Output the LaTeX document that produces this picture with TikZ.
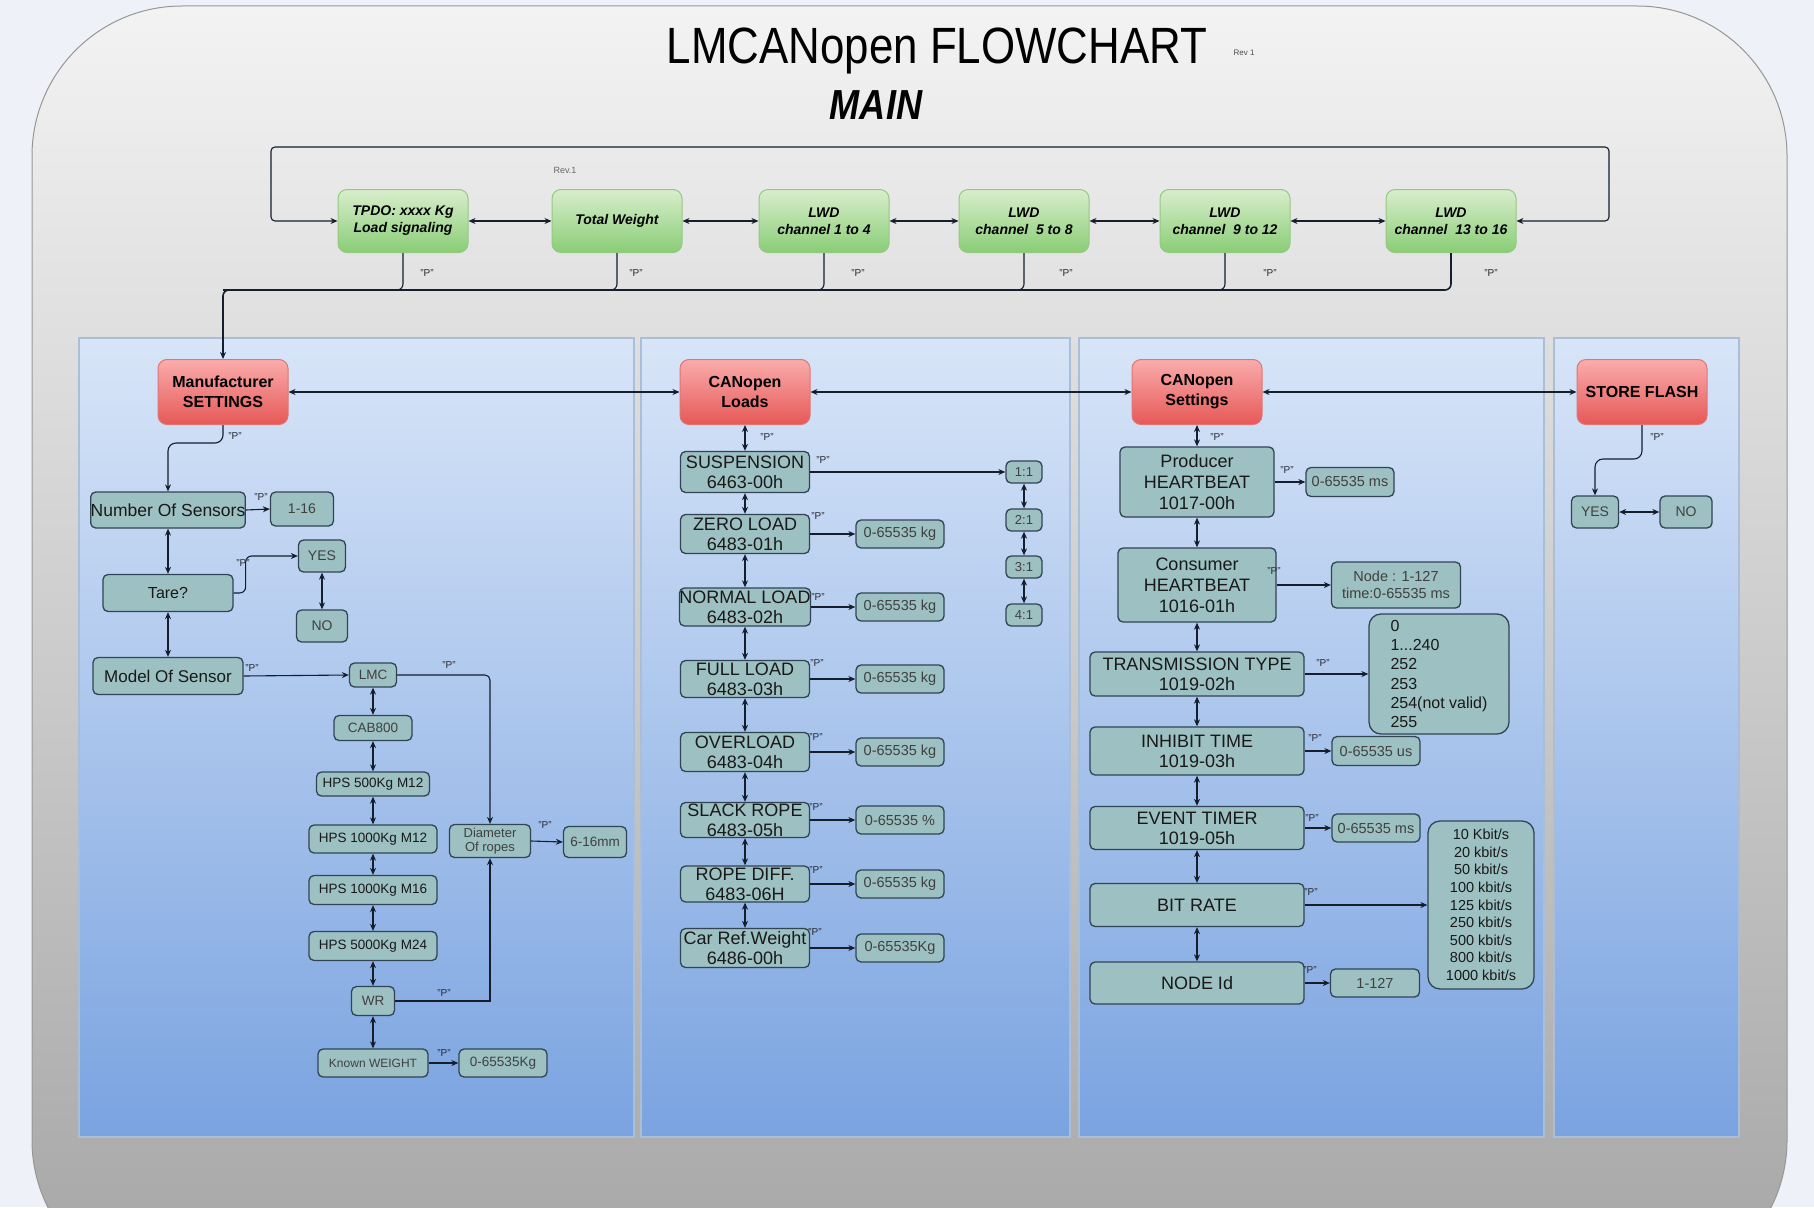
\documentclass[tikz,border=0pt]{standalone}
\usepackage{fontspec}
\setmainfont{Liberation Sans}
\newfontfamily\titlefont[FakeStretch=0.86]{Liberation Sans}
\usetikzlibrary{arrows.meta}
\definecolor{bgc}{RGB}{238,242,248}
\definecolor{otop}{RGB}{243,243,243}
\definecolor{obot}{RGB}{165,165,165}
\definecolor{oborder}{RGB}{150,150,150}
\definecolor{ptop}{RGB}{216,229,248}
\definecolor{pbot}{RGB}{122,163,224}
\definecolor{pborder}{RGB}{170,190,215}
\definecolor{tfill}{RGB}{157,192,194}
\definecolor{tborder}{RGB}{48,68,84}
\definecolor{gtop}{RGB}{216,238,204}
\definecolor{gbot}{RGB}{138,205,118}
\definecolor{gborder}{RGB}{150,200,130}
\definecolor{rtop}{RGB}{250,172,172}
\definecolor{rbot}{RGB}{230,88,86}
\definecolor{rborder}{RGB}{222,118,118}
\definecolor{linec}{RGB}{20,30,45}
\definecolor{plc}{RGB}{40,40,50}
\begin{document}
\begin{tikzpicture}[x=1pt,y=-1pt,
  line/.style={draw=linec, line width=1.1pt},
  arr/.style={line, -{Stealth[length=7pt,width=6pt]}},
  dbl/.style={line, {Stealth[length=7pt,width=6pt]}-{Stealth[length=7pt,width=6pt]}},
  fz/.style 2 args={font=\fontsize{#1}{#2}\selectfont},
  sz/.style 2 args={minimum width=#1pt, minimum height=#2pt},
  tbox/.style={draw=tborder, fill=tfill, line width=1.3pt, rounded corners=5pt, inner sep=0pt, align=center, text=black!90},
  vbox/.style={tbox, text=black!75},
  gbox/.style={draw=gborder, top color=gtop, bottom color=gbot, line width=1pt, rounded corners=9pt, sz={130}{63}, align=center, inner sep=0pt, font=\bfseries\itshape\fontsize{14}{17}\selectfont},
  rbox/.style={draw=rborder, top color=rtop, bottom color=rbot, line width=1pt, rounded corners=9pt, sz={130}{65}, align=center, inner sep=0pt, font=\bfseries\fontsize{16}{20}\selectfont},
  plab/.style={font=\fontsize{10}{10}\selectfont, text=plc, inner sep=0pt},
  panel/.style={draw=pborder, line width=1.2pt, top color=ptop, bottom color=pbot}
]
\clip (0,0) rectangle (1814,1207);
\useasboundingbox (0,0) rectangle (1814,1207);
\fill[bgc] (0,0) rectangle (1814,1207);
% outer rounded frame
\path[draw=oborder, line width=1pt, top color=otop, bottom color=obot, rounded corners=150pt] (32,6) rectangle (1787,1290);

% titles
\node[font=\titlefont\fontsize{51}{54}\selectfont] (title) at (937,51) {LMCANopen FLOWCHART};
\node[fz={8}{8}, text=black!70] (rev) at (1244,53) {Rev 1};
\node[font=\titlefont\bfseries\itshape\fontsize{42}{44}\selectfont] (main) at (876,105) {MAIN};
\node[fz={9}{9}, text=black!60] (rev2) at (565,170) {Rev.1};

% panels
\path[panel] (79,338) rectangle (634,1137);
\path[panel] (641,338) rectangle (1070,1137);
\path[panel] (1079,338) rectangle (1544,1137);
\path[panel] (1554,338) rectangle (1739,1137);

% green nodes
\node[gbox] (g1) at (403,221) {TPDO: xxxx Kg\\Load signaling};
\node[gbox] (g2) at (617,221) {Total Weight};
\node[gbox] (g3) at (824,221) {LWD\\channel 1 to 4};
\node[gbox] (g4) at (1024,221) {LWD\\channel\ \ 5 to 8};
\node[gbox] (g5) at (1225,221) {LWD\\channel\ \ 9 to 12};
\node[gbox] (g6) at (1451,221) {LWD\\channel\ \ 13 to 16};

\draw[dbl] (g1) -- (g2);
\draw[dbl] (g2) -- (g3);
\draw[dbl] (g3) -- (g4);
\draw[dbl] (g4) -- (g5);
\draw[dbl] (g5) -- (g6);

\coordinate (loopL) at (271,147);
\coordinate (loopR) at (1609,147);
\draw[dbl, rounded corners=4pt] (g1.west) -| (loopL) -- (loopR) |- (g6.east);

% red nodes
\node[rbox] (ms) at (223,392) {Manufacturer\\SETTINGS};
\node[rbox] (cl) at (745,392) {CANopen\\Loads};
\node[rbox] (cs) at (1197,392) {CANopen\\Settings};
\node[rbox] (sf) at (1642,392) {STORE FLASH};

% bus
\coordinate (busL) at (223,290);
\draw[line, rounded corners=6pt] (g1.south) |- (busL);
\draw[line, rounded corners=6pt] (g2.south) |- (busL);
\draw[line, rounded corners=6pt] (g3.south) |- (busL);
\draw[line, rounded corners=6pt] (g4.south) |- (busL);
\draw[line, rounded corners=6pt] (g5.south) |- (busL);
\draw[arr, line width=1.6pt, rounded corners=6pt] (g6.south) |- (busL) -- (ms.north);
\foreach \x in {427,636,858,1066,1270,1491} \node[plab] at (\x,273) {"P"};

\draw[dbl] (ms) -- (cl);
\draw[dbl] (cl) -- (cs);
\draw[dbl] (cs) -- (sf);

% ---------- panel 1 ----------
\node[tbox, sz={150}{36}, fz={17.5}{19}] (ns) at (168,510) {Number Of Sensors};
\node[vbox, sz={63}{34}, fz={14}{16}] (v116) at (302,509) {1-16};
\node[tbox, sz={130}{37}, fz={16}{18}] (tare) at (168,593) {Tare?};
\node[vbox, sz={47}{32}, fz={14}{16}] (yes1) at (322,556) {YES};
\node[vbox, sz={51}{32}, fz={14}{16}] (no1) at (322,626) {NO};
\node[tbox, sz={150}{37}, fz={17}{19}] (model) at (168,676) {Model Of Sensor};
\node[vbox, sz={47}{24}, fz={13.5}{15}] (lmc) at (373,675) {LMC};
\node[vbox, sz={78}{25}, fz={13.5}{15}] (cab) at (373,728) {CAB800};
\node[tbox, sz={113}{24}, fz={13.5}{15}] (h1) at (373,784) {HPS 500Kg M12};
\node[tbox, sz={128}{28}, fz={13.5}{15}] (h2) at (373,839) {HPS 1000Kg M12};
\node[tbox, sz={128}{29}, fz={13.5}{15}] (h3) at (373,890) {HPS 1000Kg M16};
\node[tbox, sz={128}{29}, fz={13.5}{15}] (h4) at (373,946) {HPS 5000Kg M24};
\node[vbox, sz={43}{29}, fz={13.5}{15}] (wr) at (373,1001) {WR};
\node[vbox, sz={110}{28}, fz={12}{14}] (kw) at (373,1063) {Known WEIGHT};
\node[vbox, sz={88}{28}, fz={13.5}{15}] (kgv) at (503,1063) {0-65535Kg};
\node[vbox, sz={81}{33}, fz={13}{14.5}] (dia) at (490,841) {Diameter\\Of ropes};
\node[vbox, sz={63}{31}, fz={13.5}{15}] (mm) at (595,842) {6-16mm};

\draw[arr, rounded corners=8pt] (ms.south) -- ++(0,18) -| (ns.north);
\draw[arr] (ns.east) -- (v116.west);
\draw[dbl] (ns) -- (tare);
\draw[arr, rounded corners=6pt] (tare.east) -- ++(12,0) |- (yes1.west);
\draw[dbl] (yes1) -- (no1);
\draw[dbl] (tare) -- (model);
\draw[arr] (model.east) -- (lmc.west);
\draw[arr, rounded corners=5pt] (lmc.east) -| (dia.north);
\draw[dbl] (lmc) -- (cab);
\draw[dbl] (cab) -- (h1);
\draw[dbl] (h1) -- (h2);
\draw[dbl] (h2) -- (h3);
\draw[dbl] (h3) -- (h4);
\draw[dbl] (h4) -- (wr);
\draw[dbl] (wr) -- (kw);
\draw[arr] (wr.east) -| (dia.south);
\draw[arr] (dia.east) -- (mm.west);
\draw[arr] (kw.east) -- (kgv.west);

\node[plab] at (235,436) {"P"};
\node[plab] at (261,497) {"P"};
\node[plab] at (243,563) {"P"};
\node[plab] at (252,668) {"P"};
\node[plab] at (449,665) {"P"};
\node[plab] at (545,825) {"P"};
\node[plab] at (444,993) {"P"};
\node[plab] at (444,1053) {"P"};

% ---------- panel 2 ----------
\node[tbox, sz={129}{41}, fz={18}{20}] (susp) at (745,472) {SUSPENSION\\6463-00h};
\node[tbox, sz={129}{39}, fz={18}{20}] (zero) at (745,534) {ZERO LOAD\\6483-01h};
\node[tbox, sz={129}{38}, fz={18}{20}] (norm) at (745,607) {NORMAL LOAD\\6483-02h};
\node[tbox, sz={129}{37}, fz={18}{20}] (full) at (745,679) {FULL LOAD\\6483-03h};
\node[tbox, sz={129}{39}, fz={18}{20}] (over) at (745,752) {OVERLOAD\\6483-04h};
\node[tbox, sz={129}{35}, fz={18}{20}] (slack) at (745,820) {SLACK ROPE\\6483-05h};
\node[tbox, sz={129}{36}, fz={18}{20}] (rope) at (745,884) {ROPE DIFF.\\6483-06H};
\node[tbox, sz={129}{39}, fz={18}{20}] (car) at (745,948) {Car Ref.Weight\\6486-00h};

\node[vbox, sz={88}{28}, fz={14.5}{16}] (vzero) at (900,534) {0-65535 kg};
\node[vbox, sz={88}{28}, fz={14.5}{16}] (vnorm) at (900,607) {0-65535 kg};
\node[vbox, sz={88}{28}, fz={14.5}{16}] (vfull) at (900,679) {0-65535 kg};
\node[vbox, sz={88}{28}, fz={14.5}{16}] (vover) at (900,752) {0-65535 kg};
\node[vbox, sz={88}{28}, fz={14.5}{16}] (vslack) at (900,820) {0-65535 \%};
\node[vbox, sz={88}{28}, fz={14.5}{16}] (vrope) at (900,884) {0-65535 kg};
\node[vbox, sz={88}{28}, fz={14.5}{16}] (vcar) at (900,948) {0-65535Kg};

\node[vbox, sz={36}{22}, fz={13}{14}] (r1) at (1024,472) {1:1};
\node[vbox, sz={36}{22}, fz={13}{14}] (r2) at (1024,520) {2:1};
\node[vbox, sz={36}{22}, fz={13}{14}] (r3) at (1024,567) {3:1};
\node[vbox, sz={36}{22}, fz={13}{14}] (r4) at (1024,615) {4:1};

\draw[dbl] (cl) -- (susp);
\draw[dbl] (susp) -- (zero);
\draw[dbl] (zero) -- (norm);
\draw[dbl] (norm) -- (full);
\draw[dbl] (full) -- (over);
\draw[dbl] (over) -- (slack);
\draw[dbl] (slack) -- (rope);
\draw[dbl] (rope) -- (car);
\draw[arr] (susp.east) -- (r1.west);
\draw[arr] (zero.east) -- (vzero.west);
\draw[arr] (norm.east) -- (vnorm.west);
\draw[arr] (full.east) -- (vfull.west);
\draw[arr] (over.east) -- (vover.west);
\draw[arr] (slack.east) -- (vslack.west);
\draw[arr] (rope.east) -- (vrope.west);
\draw[arr] (car.east) -- (vcar.west);
\draw[dbl] (r1) -- (r2);
\draw[dbl] (r2) -- (r3);
\draw[dbl] (r3) -- (r4);

\node[plab] at (767,437) {"P"};
\node[plab] at (823,460) {"P"};
\node[plab] at (818,516) {"P"};
\node[plab] at (818,597) {"P"};
\node[plab] at (817,663) {"P"};
\node[plab] at (816,737) {"P"};
\node[plab] at (816,807) {"P"};
\node[plab] at (816,870) {"P"};
\node[plab] at (815,932) {"P"};

% ---------- panel 3 ----------
\node[tbox, sz={154}{70}, fz={18}{21}] (prod) at (1197,482) {Producer\\HEARTBEAT\\1017-00h};
\node[tbox, sz={158}{74}, fz={18}{21}] (cons) at (1197,585) {Consumer\\HEARTBEAT\\1016-01h};
\node[tbox, sz={214}{44}, fz={18}{20}] (trans) at (1197,674) {TRANSMISSION TYPE\\1019-02h};
\node[tbox, sz={214}{48}, fz={18}{20}] (inh) at (1197,751) {INHIBIT TIME\\1019-03h};
\node[tbox, sz={214}{43}, fz={18}{20}] (ev) at (1197,828) {EVENT TIMER\\1019-05h};
\node[tbox, sz={214}{43}, fz={18}{20}] (br) at (1197,905) {BIT RATE};
\node[tbox, sz={214}{42}, fz={18}{20}] (nid) at (1197,983) {NODE Id};

\node[vbox, sz={88}{29}, fz={14.5}{16}] (pv) at (1350,482) {0-65535 ms};
\node[vbox, sz={129}{46}, fz={14.5}{17}] (cv) at (1396,585) {Node : 1-127\\time:0-65535 ms};
\node[tbox, sz={140}{120}, fz={16}{19.3}, align=left, rounded corners=12pt] (tl) at (1439,674) {0\\1...240\\252\\253\\254(not valid)\\255};
\node[vbox, sz={88}{29}, fz={14.5}{16}] (iv) at (1376,751) {0-65535 us};
\node[vbox, sz={88}{28}, fz={14.5}{16}] (evv) at (1376,828) {0-65535 ms};
\node[tbox, sz={106}{168}, fz={14.5}{17.6}, rounded corners=12pt] (bl) at (1481,905) {10 Kbit/s\\20 kbit/s\\50 kbit/s\\100 kbit/s\\125 kbit/s\\250 kbit/s\\500 kbit/s\\800 kbit/s\\1000 kbit/s};
\node[vbox, sz={89}{28}, fz={14.5}{16}] (nv) at (1375,983) {1-127};

\draw[dbl] (cs) -- (prod);
\draw[dbl] (prod) -- (cons);
\draw[dbl] (cons) -- (trans);
\draw[dbl] (trans) -- (inh);
\draw[dbl] (inh) -- (ev);
\draw[dbl] (ev) -- (br);
\draw[dbl] (br) -- (nid);
\draw[arr] (prod.east) -- (pv.west);
\draw[arr] (cons.east) -- (cv.west);
\draw[arr] (trans.east) -- (tl.west);
\draw[arr] (inh.east) -- (iv.west);
\draw[arr] (ev.east) -- (evv.west);
\draw[arr] (br.east) -- (bl.west);
\draw[arr] (nid.east) -- (nv.west);

\node[plab] at (1217,437) {"P"};
\node[plab] at (1287,470) {"P"};
\node[plab] at (1274,571) {"P"};
\node[plab] at (1323,663) {"P"};
\node[plab] at (1315,738) {"P"};
\node[plab] at (1312,818) {"P"};
\node[plab] at (1311,892) {"P"};
\node[plab] at (1310,970) {"P"};

% ---------- panel 4 ----------
\node[vbox, sz={47}{32}, fz={14}{16}] (yes4) at (1595,512) {YES};
\node[vbox, sz={52}{32}, fz={14}{16}] (no4) at (1686,512) {NO};
\draw[arr, rounded corners=8pt] (sf.south) -- ++(0,34) -| (yes4.north);
\draw[dbl] (yes4) -- (no4);
\node[plab] at (1657,437) {"P"};
\end{tikzpicture}
\end{document}
